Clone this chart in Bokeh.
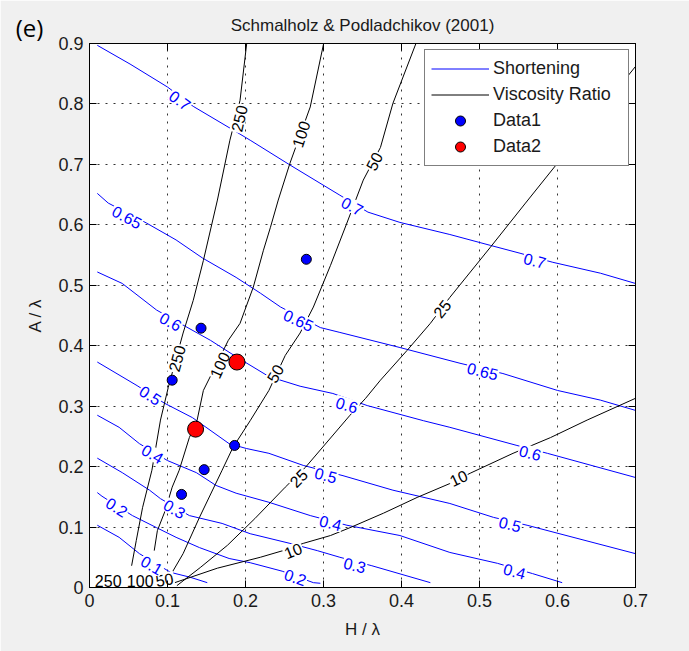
import numpy as np
from bokeh.plotting import figure
from bokeh.models import FixedTicker, LinearAxis, Range1d, Legend, LegendItem, Label
from bokeh.embed import file_html
from bokeh.resources import INLINE
from bokeh.core.properties import value

# ---------------- data ----------------
TITLE = "Schmalholz & Podladchikov (2001)"
XTICKS = [0, 0.1, 0.2, 0.3, 0.4, 0.5, 0.6, 0.7]
XTICK_LABELS = ["0", "0.1", "0.2", "0.3", "0.4", "0.5", "0.6", "0.7"]
YTICKS = [0, 0.1, 0.2, 0.3, 0.4, 0.5, 0.6, 0.7, 0.8, 0.9]
YTICK_LABELS = ["0", "0.1", "0.2", "0.3", "0.4", "0.5", "0.6", "0.7", "0.8", "0.9"]

# Shortening contours (blue)
SH70_X = [0.010, 0.052, 0.100, 0.133, 0.184, 0.206, 0.257, 0.321, 0.357, 0.398, 0.462, 0.514, 0.552, 0.594, 0.655, 0.700]
SH70_Y = [0.897, 0.866, 0.828, 0.796, 0.757, 0.740, 0.699, 0.649, 0.621, 0.604, 0.584, 0.566, 0.553, 0.538, 0.520, 0.503]
SH65_X = [0.010, 0.024, 0.073, 0.111, 0.145, 0.188, 0.219, 0.245, 0.296, 0.321, 0.398, 0.475, 0.530, 0.600, 0.655, 0.700]
SH65_Y = [0.652, 0.636, 0.603, 0.575, 0.545, 0.513, 0.487, 0.464, 0.430, 0.422, 0.397, 0.371, 0.354, 0.326, 0.310, 0.293]
SH60_X = [0.010, 0.042, 0.086, 0.123, 0.155, 0.189, 0.230, 0.270, 0.312, 0.356, 0.428, 0.462, 0.548, 0.587, 0.700]
SH60_Y = [0.522, 0.503, 0.459, 0.432, 0.409, 0.381, 0.349, 0.333, 0.321, 0.301, 0.276, 0.265, 0.235, 0.222, 0.182]
SH50_X = [0.010, 0.061, 0.096, 0.132, 0.179, 0.201, 0.230, 0.274, 0.325, 0.389, 0.462, 0.518, 0.561, 0.700]
SH50_Y = [0.373, 0.334, 0.305, 0.281, 0.238, 0.230, 0.222, 0.202, 0.185, 0.161, 0.139, 0.116, 0.103, 0.056]
SH40_X = [0.010, 0.038, 0.064, 0.100, 0.137, 0.162, 0.188, 0.230, 0.283, 0.330, 0.398, 0.462, 0.523, 0.568, 0.606]
SH40_Y = [0.285, 0.265, 0.238, 0.210, 0.190, 0.169, 0.156, 0.141, 0.119, 0.103, 0.086, 0.058, 0.040, 0.023, 0.008]
SH30_X = [0.010, 0.042, 0.077, 0.091, 0.128, 0.170, 0.206, 0.257, 0.292, 0.321, 0.362, 0.437]
SH30_Y = [0.214, 0.190, 0.161, 0.147, 0.119, 0.106, 0.089, 0.073, 0.061, 0.050, 0.036, 0.008]
SH20_X = [0.010, 0.016, 0.055, 0.086, 0.111, 0.141, 0.179, 0.206, 0.247, 0.287, 0.296]
SH20_Y = [0.157, 0.151, 0.119, 0.099, 0.083, 0.066, 0.048, 0.041, 0.027, 0.008, 0.007]
SH10_X = [0.010, 0.038, 0.064, 0.104, 0.129, 0.151]
SH10_Y = [0.103, 0.083, 0.056, 0.025, 0.017, 0.008]

# Viscosity ratio contours (black)
VR250_X = [0.202, 0.193, 0.180, 0.164, 0.146, 0.133, 0.120, 0.101, 0.091, 0.080, 0.068, 0.060, 0.054]
VR250_Y = [0.905, 0.806, 0.740, 0.641, 0.541, 0.475, 0.421, 0.331, 0.277, 0.194, 0.132, 0.078, 0.036]
VR100_X = [0.301, 0.283, 0.257, 0.242, 0.232, 0.223, 0.210, 0.193, 0.178, 0.146, 0.138, 0.128, 0.115, 0.106, 0.097, 0.087, 0.083]
VR100_Y = [0.905, 0.795, 0.702, 0.641, 0.596, 0.558, 0.497, 0.437, 0.409, 0.326, 0.277, 0.248, 0.194, 0.166, 0.127, 0.094, 0.061]
VR50_X = [0.420, 0.389, 0.373, 0.351, 0.330, 0.309, 0.287, 0.270, 0.251, 0.230, 0.206, 0.184, 0.170, 0.141, 0.120, 0.106]
VR50_Y = [0.905, 0.801, 0.728, 0.674, 0.603, 0.533, 0.464, 0.421, 0.384, 0.326, 0.276, 0.232, 0.194, 0.116, 0.056, 0.025]
VR25_X = [0.112, 0.142, 0.177, 0.212, 0.251, 0.277, 0.334, 0.354, 0.373, 0.407, 0.437, 0.462, 0.514, 0.559, 0.600, 0.655, 0.705]
VR25_Y = [0.003, 0.033, 0.070, 0.114, 0.166, 0.199, 0.285, 0.313, 0.343, 0.392, 0.437, 0.480, 0.563, 0.636, 0.702, 0.790, 0.870]
VR10_X = [0.107, 0.164, 0.219, 0.248, 0.274, 0.309, 0.334, 0.377, 0.420, 0.462, 0.488, 0.543, 0.591, 0.638, 0.700]
VR10_Y = [0.007, 0.032, 0.050, 0.061, 0.073, 0.086, 0.099, 0.123, 0.149, 0.172, 0.189, 0.222, 0.248, 0.277, 0.313]

# Contour labels
SH_LABEL_TEXT = ["0.7", "0.7", "0.7", "0.65", "0.65", "0.65", "0.6", "0.6", "0.6",
                 "0.5", "0.5", "0.5", "0.4", "0.4", "0.4", "0.3", "0.3", "0.2", "0.2", "0.1"]
SH_LABEL_X = [0.116, 0.337, 0.571, 0.048, 0.268, 0.504, 0.104, 0.330, 0.565,
              0.078, 0.303, 0.539, 0.081, 0.309, 0.545, 0.109, 0.340, 0.035, 0.264, 0.080]
SH_LABEL_Y = [0.806, 0.631, 0.541, 0.613, 0.442, 0.358, 0.440, 0.302, 0.223,
              0.318, 0.186, 0.105, 0.221, 0.107, 0.027, 0.130, 0.037, 0.133, 0.017, 0.037]
SH_LABEL_ANGLE = [-36, -28, -15, -28, -25, -14, -29, -17, -15,
                  -33, -15, -14, -30, -14, -15, -30, -14, -32, -19, -30]

VR_LABEL_TEXT = ["250", "250", "250", "100", "100", "100", "50", "50", "50", "25", "25", "10", "10"]
VR_LABEL_X = [0.192, 0.112, 0.024, 0.271, 0.167, 0.065, 0.365, 0.238, 0.096, 0.268, 0.452, 0.261, 0.473]
VR_LABEL_Y = [0.776, 0.379, 0.010, 0.750, 0.368, 0.010, 0.705, 0.354, 0.013, 0.181, 0.461, 0.061, 0.181]
VR_LABEL_ANGLE = [77, 75, 0, 72, 65, 0, 63, 60, 10, 45, 52, 22, 25]

# Data points
D1_X = [0.278, 0.143, 0.106, 0.186, 0.147, 0.118]
D1_Y = [0.543, 0.429, 0.343, 0.235, 0.195, 0.154]
D2_X = [0.189, 0.136]
D2_Y = [0.373, 0.262]

# ---------------- figure ----------------
FONT = "Liberation Sans"
GRAY = "#f0f0f0"
INK = "#1a1a1a"

p = figure(frame_width=546, frame_height=544,
           min_border_left=89, min_border_right=54, min_border_top=43, min_border_bottom=64,
           x_range=Range1d(0, 0.7), y_range=Range1d(0, 0.9),
           output_backend="svg", toolbar_location=None,
           background_fill_color="white", border_fill_color=GRAY)
p.outline_line_color = "black"

p.title.text = TITLE
p.title.align = "center"
p.title.text_font = FONT
p.title.text_font_size = "17px"
p.title.text_font_style = "normal"
p.title.text_color = INK
p.title.standoff = 17

p.xaxis.axis_label = "H / λ"
p.yaxis.axis_label = "A / λ"
p.xaxis.ticker = FixedTicker(ticks=XTICKS)
p.yaxis.ticker = FixedTicker(ticks=YTICKS)
p.xaxis.major_label_overrides = {t: l for t, l in zip(XTICKS, XTICK_LABELS)}
p.yaxis.major_label_overrides = {t: l for t, l in zip(YTICKS, YTICK_LABELS)}
for ax in (p.xaxis, p.yaxis):
    ax.major_tick_in = 7
    ax.major_tick_out = 0
    ax.minor_tick_line_color = None
    ax.axis_line_color = "black"
    ax.major_tick_line_color = "black"
    ax.major_label_text_font = FONT
    ax.major_label_text_font_size = "18px"
    ax.major_label_text_color = INK
    ax.axis_label_text_font = FONT
    ax.axis_label_text_font_size = "17px"
    ax.axis_label_text_font_style = "normal"
    ax.axis_label_text_color = INK
    ax.major_label_standoff = 6
p.xaxis.axis_label_standoff = 10
p.yaxis.axis_label_standoff = 10

for loc, ticks in (("right", YTICKS), ("above", XTICKS)):
    ax = LinearAxis(ticker=FixedTicker(ticks=ticks), major_label_text_color=None,
                    major_tick_in=7, major_tick_out=0, minor_tick_line_color=None,
                    axis_line_color="black", major_tick_line_color="black",
                    major_label_standoff=0)
    p.add_layout(ax, loc)

p.xgrid.ticker = FixedTicker(ticks=XTICKS)
p.ygrid.ticker = FixedTicker(ticks=YTICKS)
p.grid.grid_line_color = "#333333"
p.grid.grid_line_dash = "2 6"
p.grid.grid_line_width = 1

sh_xs = [SH70_X, SH65_X, SH60_X, SH50_X, SH40_X, SH30_X, SH20_X, SH10_X]
sh_ys = [SH70_Y, SH65_Y, SH60_Y, SH50_Y, SH40_Y, SH30_Y, SH20_Y, SH10_Y]
vr_xs = [VR250_X, VR100_X, VR50_X, VR25_X, VR10_X]
vr_ys = [VR250_Y, VR100_Y, VR50_Y, VR25_Y, VR10_Y]

r_sh = p.multi_line(sh_xs, sh_ys, line_color="#0000ff", line_width=1)
r_vr = p.multi_line(vr_xs, vr_ys, line_color="#000000", line_width=1)

p.text(x=VR_LABEL_X, y=VR_LABEL_Y, text=VR_LABEL_TEXT,
       angle=list(np.deg2rad(VR_LABEL_ANGLE)),
       text_align="center", text_baseline="middle",
       text_font=value(FONT), text_font_size="16px", text_color="black",
       background_fill_color="white", padding=1)
p.text(x=SH_LABEL_X, y=SH_LABEL_Y, text=SH_LABEL_TEXT,
       angle=list(np.deg2rad(SH_LABEL_ANGLE)),
       text_align="center", text_baseline="middle",
       text_font=value(FONT), text_font_size="16px", text_color="#0000ff",
       background_fill_color="white", padding=1)

r_d1 = p.scatter(D1_X, D1_Y, marker="circle", size=10, fill_color="#0000ff",
                 line_color="black", line_width=1)
r_d2 = p.scatter(D2_X, D2_Y, marker="circle", size=16, fill_color="#ff0000",
                 line_color="black", line_width=1)

legend = Legend(items=[LegendItem(label="Shortening", renderers=[r_sh]),
                       LegendItem(label="Viscosity Ratio", renderers=[r_vr]),
                       LegendItem(label="Data1", renderers=[r_d1]),
                       LegendItem(label="Data2", renderers=[r_d2])],
                location="top_right")
legend.border_line_color = "black"
legend.border_line_width = 1
legend.background_fill_color = "white"
legend.background_fill_alpha = 1
legend.label_text_font = FONT
legend.label_text_font_size = "18px"
legend.label_text_color = INK
legend.glyph_width = 58
legend.glyph_height = 25
legend.label_height = 25
legend.label_width = 129
legend.label_standoff = 4
legend.spacing = 1
legend.padding = 6
legend.margin = 6
p.add_layout(legend)

# panel letter, placed in the right side panel (not clipped), positioned in screen px
p.add_layout(Label(x=-606, y=560, x_units="screen", y_units="screen", text="(e)",
                   text_font="Open Sans", text_font_size="24px",
                   text_align="center", text_baseline="middle", text_color="black"),
             "right")

open("out.html", "w").write(file_html(p, INLINE))
